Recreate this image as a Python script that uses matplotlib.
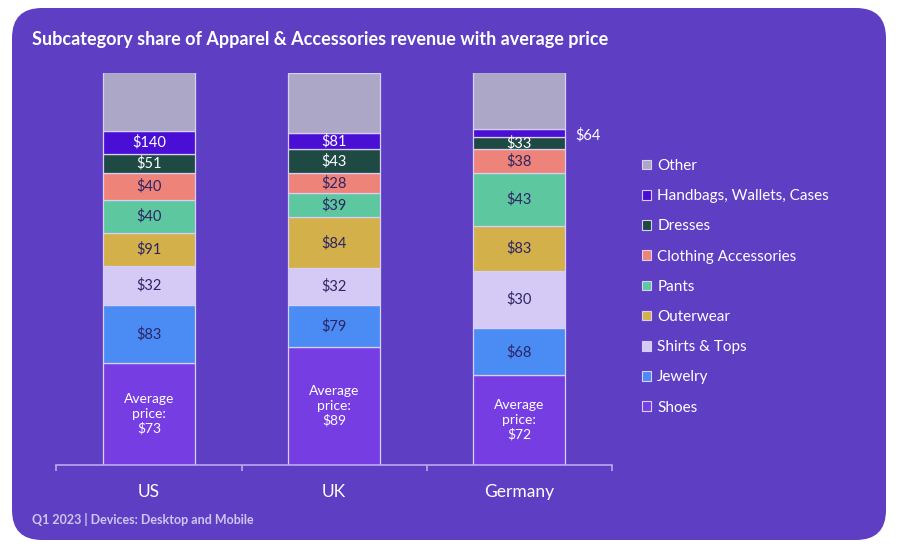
import matplotlib.pyplot as plt
from matplotlib.patches import FancyBboxPatch, Patch

plt.rcParams['font.family'] = ['Lato', 'DejaVu Sans']

# data (bottom -> top of each bar), share of revenue in %
countries = ['US', 'UK', 'Germany']
subcats = ['Shoes', 'Jewelry', 'Shirts & Tops', 'Outerwear', 'Pants',
           'Clothing Accessories', 'Dresses', 'Handbags, Wallets, Cases', 'Other']
share_us = [25.9, 14.9, 9.8, 8.5, 8.4, 6.9, 4.8, 6.0, 14.8]
share_uk = [30.0, 10.8, 9.3, 13.0, 6.1, 5.1, 6.3, 3.9, 15.5]
share_de = [22.9, 11.9, 14.7, 11.5, 13.3, 6.1, 3.2, 2.0, 14.4]
# average price per subcategory ($)
price_us = [73, 83, 32, 91, 40, 40, 51, 140, None]
price_uk = [89, 79, 32, 84, 39, 28, 43, 81, None]
price_de = [72, 68, 30, 83, 43, 38, 33, 64, None]

shares = [share_us, share_uk, share_de]
prices = [price_us, price_uk, price_de]

colors = ['#763EE2', '#4A8CF4', '#D5CAF6', '#D4B04A', '#5DC8A0',
          '#EE837A', '#1E4A43', '#4A0FD5', '#ADA7C7']
txt_col = ['white', '#2C2466', '#2C2466', '#2C2466', '#2C2466',
           '#2C2466', 'white', 'white', None]
card = '#5E3FC3'
line_col = '#B9A9EC'

fig = plt.figure(figsize=(9, 5.57), dpi=100)
fig.patch.set_facecolor('white')

# background card with rounded corners, drawn in pixel coords
bg = fig.add_axes([0, 0, 1, 1])
bg.set_xlim(0, 900)
bg.set_ylim(557, 0)
bg.axis('off')
bg.add_patch(FancyBboxPatch((12 + 30, 8 + 30), 874 - 60, 532 - 60,
                            boxstyle='round,pad=30', fc=card, ec='none'))

ax = fig.add_axes([56.5 / 900, 92 / 557, 555 / 900, 392.5 / 557])
ax.set_facecolor('none')
ax.set_xlim(-0.5, 2.5)
ax.set_ylim(0, 100)

for i, (sh, pr) in enumerate(zip(shares, prices)):
    bottom = 0
    for j, val in enumerate(sh):
        ax.bar(i, val, width=0.5, bottom=bottom, color=colors[j],
               edgecolor='#D8CFF5', linewidth=0.9)
        if pr[j] is not None:
            mid = bottom + val / 2
            if j == 0:
                ax.text(i, mid, 'Average\nprice:\n$%d' % pr[j], ha='center', va='center',
                        color='white', fontsize=10, linespacing=1.25)
            elif countries[i] == 'Germany' and subcats[j].startswith('Handbags'):
                ax.annotate('$%d' % pr[j], (i + 0.25, mid), xytext=(7, -2),
                            textcoords='offset points', ha='left', va='center',
                            color='white', fontsize=10.5)
            else:
                ax.text(i, mid, '$%d' % pr[j], ha='center', va='center',
                        color=txt_col[j], fontsize=10.5)
        bottom += val

for s in ['top', 'right', 'left']:
    ax.spines[s].set_visible(False)
ax.spines['bottom'].set_color(line_col)
ax.spines['bottom'].set_linewidth(1.2)
ax.set_yticks([])
ax.set_xticks([-0.5, 0.5, 1.5, 2.5])
ax.set_xticklabels([])
ax.tick_params(axis='x', which='major', length=4, width=1.2, color=line_col)
ax.set_xticks([0, 1, 2], countries, minor=True)
ax.tick_params(axis='x', which='minor', length=0, pad=14, labelsize=12.5,
               labelcolor='white')

handles = [Patch(facecolor=colors[j], edgecolor='#D8CFF5', linewidth=0.8, label=subcats[j])
           for j in range(len(subcats) - 1, -1, -1)]
fig.legend(handles=handles, loc='upper left', bbox_to_anchor=(642 / 900, 1 - 159 / 557),
           frameon=False, fontsize=11, labelcolor='white', handlelength=0.6,
           handleheight=0.6, handletextpad=0.4, labelspacing=1.06,
           borderpad=0, borderaxespad=0)

fig.text(32 / 900, 1 - 40 / 557, 'Subcategory share of Apparel & Accessories revenue with average price',
         color='white', fontsize=13, fontweight='bold', va='center', ha='left')
fig.text(32 / 900, 1 - 520 / 557, 'Q1 2023 | Devices: Desktop and Mobile',
         color='#CFC5F0', fontsize=9, fontweight='bold', va='center', ha='left')

fig.savefig('out.png', dpi=100, facecolor='white')
